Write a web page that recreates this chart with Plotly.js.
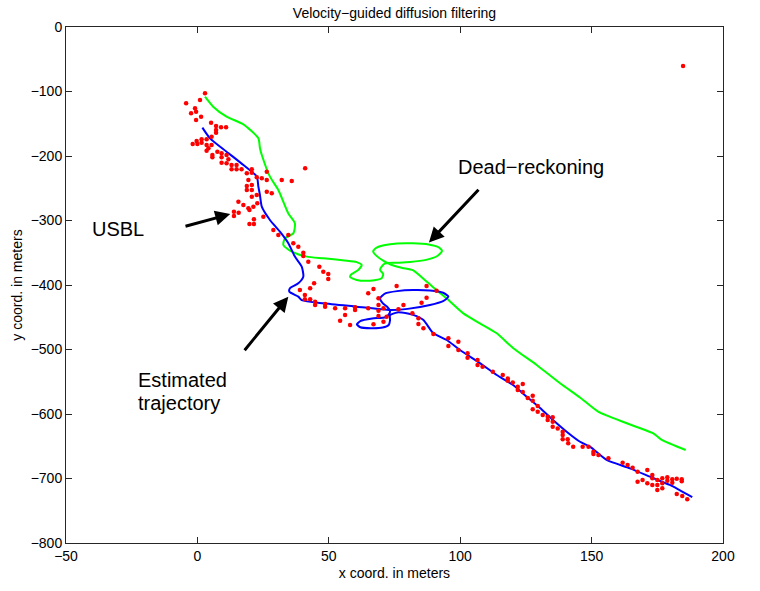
<!DOCTYPE html>
<html>
<head>
<meta charset="utf-8">
<script src="https://cdn.plot.ly/plotly-3.0.1.min.js"></script>
<style>html,body{margin:0;padding:0;background:#fff;}#chart{width:760px;height:591px;}</style>
</head>
<body>
<div id="chart"></div>
<script>
// Dead-reckoning trajectory (green)
const deadX = [2.9,6.0,11.1,17.5,23.2,23.8,24.5,27.6,30.8,34.6,37.1,36.5,33.3,32.7,35.9,41.6,47.9,56.0,60.6,62.5,61.2,58.7,58.1,60.6,65.7,70.1,70.7,69.5,70.1,71.4,76.0,80.9,87.0,91.3,93.1,91.8,88.0,82.0,76.0,71.0,67.8,66.9,68.5,71.0,74.0,78.0,82.0,87.3,92.3,94.8,101.2,107.5,113.9,120.2,129.1,138.0,145.6,152.5,163.4,173.5,174.8,176.7,185.8];
const deadY = [-108,-123.5,-139,-151,-172.5,-188,-198.5,-232,-252.7,-289,-304.4,-320,-327.6,-338,-348.4,-356,-358.6,-362,-364.5,-369,-376.7,-383,-387.6,-392.2,-393.3,-389.6,-383,-376.7,-371.6,-366.4,-365.5,-364.3,-361,-355,-347.3,-341.5,-337.2,-335.3,-335.5,-338.5,-343,-348.4,-356,-363,-369,-373.5,-377,-395,-412.4,-420.6,-444,-459.4,-474.9,-498,-524,-552.4,-574.4,-596.4,-614.4,-630,-634,-640,-655.8];

// Estimated trajectory (blue)
const estX = [1.9,4.8,11.1,17.5,22.6,23.2,23.8,24.5,27.6,31.4,34.6,37.1,39.7,40.3,38.4,35.2,35.0,38.4,39.7,47.9,60.6,73.3,80.0,88.5,93.5,95.5,93.5,88.5,82.0,76.0,71.5,69.5,70.5,72.5,73.3,72.8,71.5,66.5,62.0,60.7,62.0,66.0,70.5,72.8,73.3,73.3,76.0,79.6,82.1,86.0,89.7,94.9,99.9,107.5,113.9,120.1,125.3,130.4,135.3,140.5,145.6,149.4,155.7,164.6,172.2,177.9,179.8,188.3];
const estY = [-156,-172.6,-193.3,-214,-232,-247.6,-260.5,-278.6,-299.2,-317.4,-335.3,-356,-371.6,-387,-397.4,-405,-410.4,-418,-423.3,-428.4,-433.6,-438.8,-437,-431,-425,-418,-412,-408.5,-407.8,-409.5,-413,-420.6,-428,-435,-440,-446,-450,-452,-456,-461,-465.5,-467,-466,-462,-455,-447,-442.5,-443.9,-446.4,-454.3,-474.4,-485.3,-500.8,-521,-539.5,-555,-573.2,-590.7,-609.3,-627.4,-643,-650.7,-671.3,-684.2,-697.2,-707,-710,-729];

// USBL fixes (red dots)
const usblX = [2.9,1.0,-4.3,-0.9,-0.5,-2.4,1.4,-0.5,5.2,7.1,9.0,10.9,7.1,7.1,5.4,1.6,3.5,-0.3,1.6,-1.8,0.0,3.5,5.4,4.2,3.5,5.7,5.7,7.6,9.2,11.1,9.2,11.8,9.2,11.1,13.0,14.9,13.0,14.9,16.8,20.7,20.7,18.8,22.6,24.5,26.4,19.4,32.1,35.9,41.0,26.4,18.8,20.7,18.8,20.7,26.4,28.3,20.7,22.6,22.8,21.3,19.4,15.6,17.5,13.9,15.7,13.9,19.8,21.5,21.5,19.8,25.1,28.9,30.8,34.6,36.5,38.4,40.3,40.3,42.2,46.4,
47.9,49.8,49.8,44.4,39.0,42.9,40.9,40.9,42.9,44.8,44.8,48.6,48.6,52.4,56.2,60.0,60.0,56.2,54.3,58.1,65.0,67.0,65.0,68.9,68.9,68.9,70.8,68.9,72.0,67.0,70.8,75.8,87.2,91.0,87.2,85.3,76.5,78.4,81.8,84.1,84.1,86.0,89.8,95.5,95.5,99.3,99.3,
102.8,102.8,106.6,106.6,108.5,112.4,116.2,118.1,118.1,120.0,121.9,123.8,121.9,123.8,125.7,127.6,127.6,129.5,127.6,129.5,131.4,133.3,135.2,135.2,133.3,135.2,137.1,139.0,139.0,140.9,139.0,141.1,143.0,
146.6,148.8,150.7,150.7,152.6,156.4,161.8,163.7,165.6,167.5,171.2,173.1,173.1,175.0,176.9,178.8,178.8,180.7,180.7,182.4,184.3,184.3,167.5,169.4,171.2,173.1,175.0,176.9,175.0,176.9,182.4,184.5,186.4,
184.8];
const usblY = [-102.8,-113.2,-118.3,-126.1,-131.3,-133.9,-139.0,-144.2,-148.3,-153.5,-155.6,-155.6,-159.7,-163.8,-170.0,-174.2,-174.2,-176.7,-179.3,-181.4,-181.4,-182.9,-182.9,-188.1,-191.7,-198.5,-202.1,-193.3,-195.9,-198.5,-202.1,-205.2,-210.3,-211.4,-214.0,-214.0,-220.7,-220.7,-220.7,-220.7,-225.8,-226.9,-233.1,-234.6,-237.2,-237.2,-237.2,-238.8,-219.1,-224.3,-246.5,-244.9,-252.7,-252.7,-255.3,-257.9,-263.0,-260.5,-273.4,-278.6,-281.1,-270.8,-276.0,-286.3,-287.9,-293.0,-283.7,-298.2,-305.4,-305.4,-294.0,-314.7,-322.5,-322.5,-335.4,-340.6,-349.9,-355.0,-363.8,-371.6,
-379.3,-382.9,-390.7,-397.4,-407.7,-405.1,-415.5,-422.2,-422.2,-425.8,-431.0,-429.4,-433.6,-436.2,-436.2,-434.6,-438.7,-446.5,-455.3,-462.0,-412.9,-406.2,-436.2,-420.7,-431.0,-439.8,-436.2,-448.0,-449.1,-461.0,-456.8,-401.5,-401.5,-408.8,-419.6,-427.4,-437.7,-431.0,-443.9,-451.7,-460.5,-467.2,-476.0,-482.7,-494.6,-487.8,-500.8,
-506.0,-512.7,-516.3,-524.1,-526.7,-534.4,-539.6,-544.8,-548.4,-551.0,-557.7,-553.5,-562.8,-565.9,-575.2,-571.6,-579.4,-587.6,-592.8,-596.4,-601.6,-604.2,-605.2,-612.0,-609.4,-619.7,-622.3,-627.4,-632.6,-639.3,-639.3,-645.5,-650.7,
-650.7,-650.7,-658.4,-662.0,-663.6,-668.7,-675.5,-679.1,-683.2,-689.4,-686.8,-694.6,-699.8,-702.4,-699.8,-698.2,-703.4,-701.3,-706.5,-700.3,-701.3,-704.4,-704.9,-702.4,-707.5,-710.1,-710.1,-707.5,-717.8,-715.3,-724.0,-727.1,-732.3,
-60.5];

const xTicks = [-50, 0, 50, 100, 150, 200];
const yTicks = [-800, -700, -600, -500, -400, -300, -200, -100, 0];

const FONT = 'Liberation Sans, Arial, Helvetica, sans-serif';

const traces = [
  {x: deadX, y: deadY, mode: 'lines', type: 'scatter', line: {color: '#00ff00', width: 2, shape: 'spline', smoothing: 0.6}, hoverinfo: 'skip'},
  {x: estX, y: estY, mode: 'lines', type: 'scatter', line: {color: '#0000ff', width: 2, shape: 'spline', smoothing: 0.6}, hoverinfo: 'skip'},
  {x: usblX, y: usblY, mode: 'markers', type: 'scatter', marker: {color: '#ff0000', size: 4.5, line: {width: 0}}, hoverinfo: 'skip'}
];

function arrow(tipX, tipY, tailX, tailY) {
  return {x: tipX, y: tipY, ax: tailX, ay: tailY, xref: 'x', yref: 'y', axref: 'x', ayref: 'y',
    text: '', showarrow: true, arrowhead: 2, arrowsize: 1, arrowwidth: 3, arrowcolor: '#000', standoff: 0};
}
function label(txt, x, y, xanchor) {
  return {x: x, y: y, xref: 'x', yref: 'y', text: txt, showarrow: false, xanchor: xanchor, yanchor: 'middle',
    font: {family: FONT, size: 20, color: '#000'}};
}

const axisCommon = {
  showgrid: false, zeroline: false, showline: true, linecolor: '#262626', linewidth: 1,
  mirror: 'ticks', ticks: 'inside', ticklen: 6, tickwidth: 1, tickcolor: '#262626',
  tickfont: {family: FONT, size: 14, color: '#000'}
};

const layout = {
  width: 760, height: 591,
  margin: {l: 66, r: 37, t: 27, b: 48, pad: 0},
  paper_bgcolor: '#fff', plot_bgcolor: '#fff',
  showlegend: false,
  title: {text: 'Velocity\u2212guided diffusion filtering', x: 0.5, xref: 'paper', y: 0.978, yanchor: 'middle',
    font: {family: FONT, size: 14, color: '#000'}},
  xaxis: Object.assign({}, axisCommon, {range: [-50, 200], tickvals: xTicks, ticktext: xTicks.map(v => v < 0 ? '\u2212' + Math.abs(v) : String(v)),
    title: {text: 'x coord. in meters', font: {family: FONT, size: 14, color: '#000'}, standoff: 5}}),
  yaxis: Object.assign({}, axisCommon, {range: [-800, 0], tickvals: yTicks, ticktext: yTicks.map(v => v < 0 ? '\u2212' + Math.abs(v) : String(v)),
    title: {text: 'y coord. in meters', font: {family: FONT, size: 14, color: '#000'}, standoff: 4}}),
  annotations: [
    arrow(12.5, -290.0, -5.1, -309.6),
    arrow(88.1, -334.1, 107.5, -250.1),
    arrow(34.6, -418.1, 17.5, -503.4),
    label('USBL', -30.1, -313, 'center'),
    label('Dead\u2212reckoning', 126.9, -217, 'center'),
    label('Estimated', -23.5, -548, 'left'),
    label('trajectory', -23.5, -583, 'left')
  ]
};

Plotly.newPlot('chart', traces, layout, {displayModeBar: false, staticPlot: true});
</script>
</body>
</html>
